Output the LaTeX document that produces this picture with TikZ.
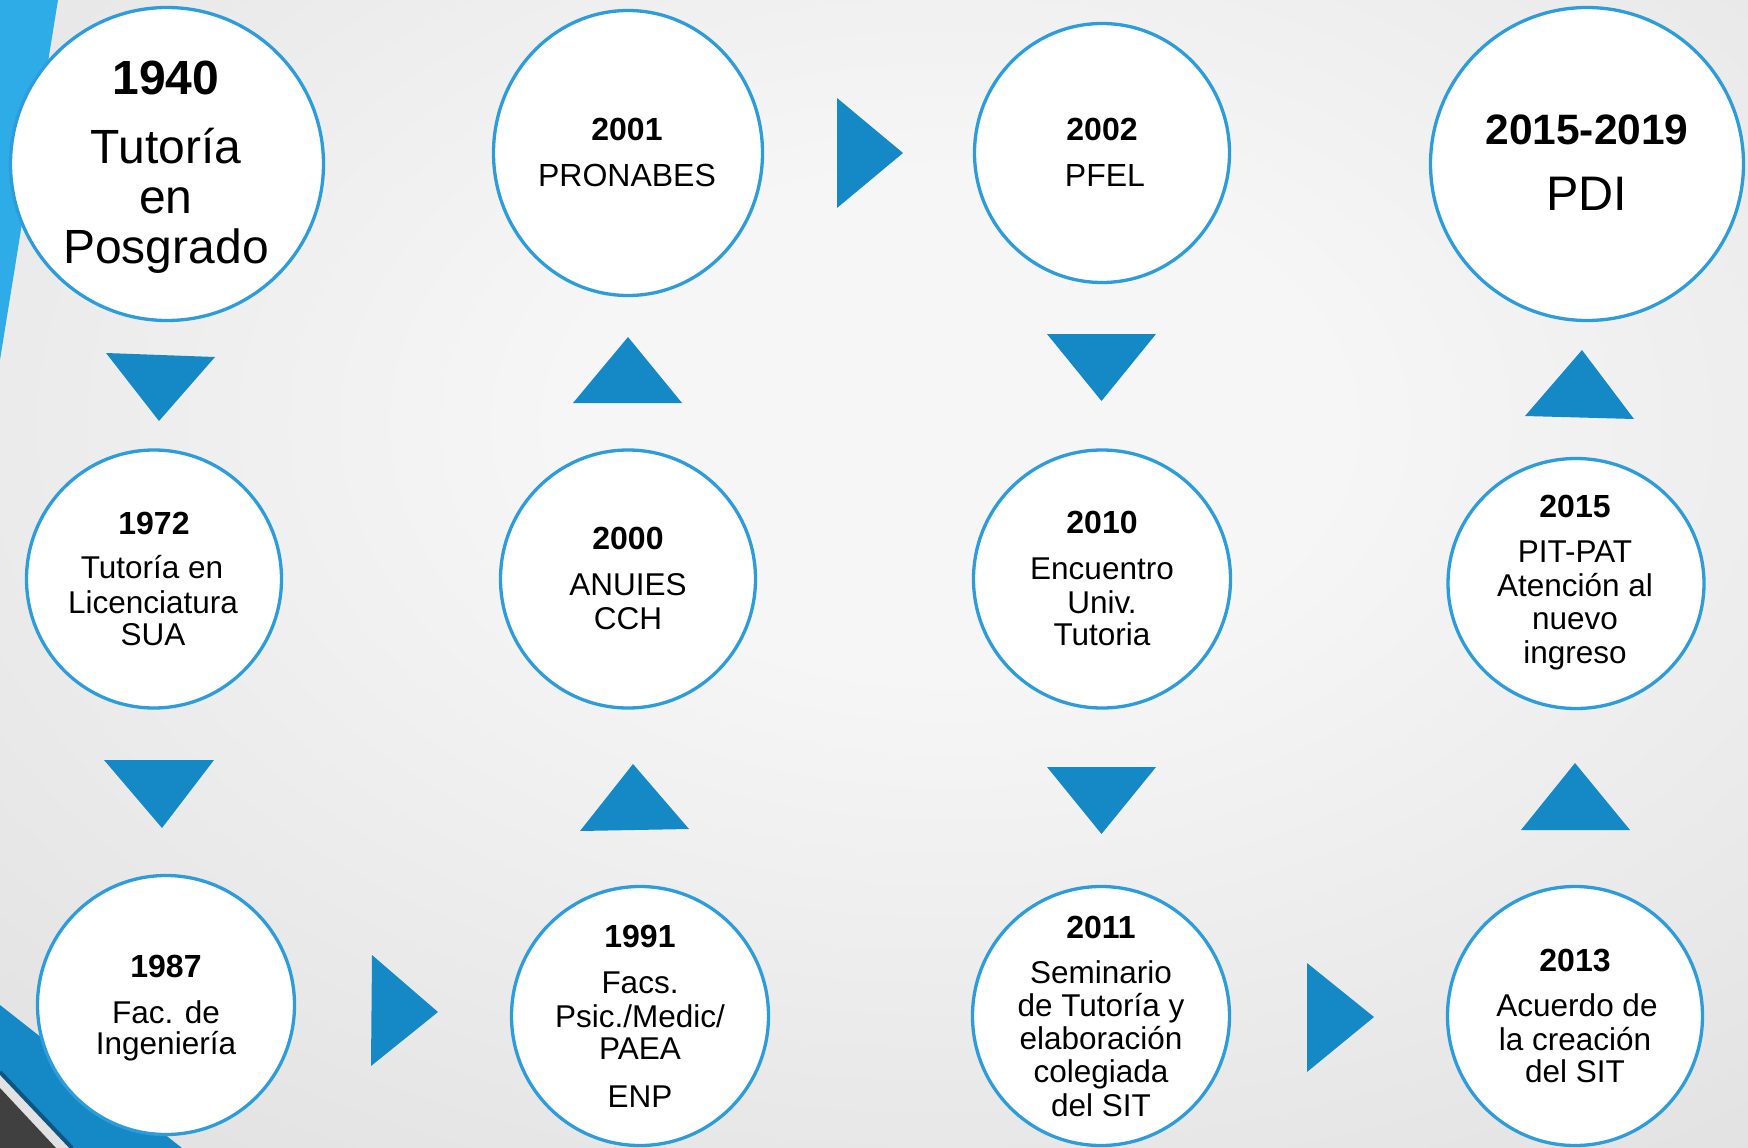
\documentclass[tikz,border=0pt]{standalone}
\usepackage{fontspec}
\setmainfont{Liberation Sans}
\usetikzlibrary{shapes.geometric}
\definecolor{ring}{RGB}{45,156,219}
\definecolor{tricol}{RGB}{21,137,198}
\definecolor{stripecol}{RGB}{46,172,232}
\definecolor{darklinecol}{RGB}{14,85,130}
\definecolor{darkgraycol}{RGB}{64,64,64}
\definecolor{bgin}{RGB}{246,246,246}
\definecolor{bgout}{RGB}{206,206,206}
\pgfdeclareradialshading{bgshade}{\pgfpoint{0bp}{0bp}}{color(0bp)=(bgin); color(8bp)=(bgin); color(50bp)=(bgout)}
\begin{document}
\begin{tikzpicture}[x=1pt,y=-1pt,
  ev/.style={ellipse, draw=ring, line width=3.3pt, fill=white, inner sep=0pt},
  yr/.style={anchor=base, inner sep=0pt, font=\bfseries\fontsize{#1}{#1}\selectfont},
  tx/.style={anchor=base, inner sep=0pt, font=\fontsize{#1}{#1}\selectfont},
  arrowtri/.style={fill=tricol}]
\useasboundingbox (0,0) rectangle (1748,1148);
% background
\begin{scope}
\clip (0,0) rectangle (1748,1148);
\shade[shading=bgshade] (-250,-350) rectangle (2150,1200);
\fill[stripecol] (0,0) -- (58,0) -- (0,360) -- cycle;
\fill[tricol] (0,1005) -- (182,1148) -- (72,1148) -- (0,1072) -- cycle;
\draw[darklinecol, line width=4pt] (0,1072) -- (72,1148);
\fill[darkgraycol] (0,1088) -- (56,1148) -- (0,1148) -- cycle;
\end{scope}
% triangles
\fill[arrowtri] (106,353) -- (215,357) -- (159,421) -- cycle;
\fill[arrowtri] (104,760) -- (214,760) -- (162,828) -- cycle;
\fill[arrowtri] (573,403) -- (682,403) -- (628,337) -- cycle;
\fill[arrowtri] (580,831) -- (689,829) -- (633,764) -- cycle;
\fill[arrowtri] (837,98) -- (903,153) -- (837,208) -- cycle;
\fill[arrowtri] (1047,334) -- (1156,334) -- (1101.5,401) -- cycle;
\fill[arrowtri] (1047,767) -- (1156,767) -- (1101.5,834) -- cycle;
\fill[arrowtri] (1525,416) -- (1634,419) -- (1582,350) -- cycle;
\fill[arrowtri] (1521,830) -- (1630,830) -- (1575,763) -- cycle;
\fill[arrowtri] (372,955) -- (438,1012) -- (371,1066) -- cycle;
\fill[arrowtri] (1307,963) -- (1374,1017) -- (1307,1072) -- cycle;
% circles
\node[ev, minimum width=313pt, minimum height=313pt] (c1940) at (167,164) {};
\node[ev, minimum width=269pt, minimum height=285pt] (c2001) at (628,153) {};
\node[ev, minimum width=255pt, minimum height=259pt] (c2002) at (1102,153) {};
\node[ev, minimum width=313pt, minimum height=313pt] (c2019) at (1587,164) {};
\node[ev, minimum width=255pt, minimum height=258pt] (c1972) at (154,579) {};
\node[ev, minimum width=255pt, minimum height=258pt] (c2000) at (628,579) {};
\node[ev, minimum width=257pt, minimum height=258pt] (c2010) at (1102,579) {};
\node[ev, minimum width=256pt, minimum height=250pt] (c2015) at (1576,583.5) {};
\node[ev, minimum width=257pt, minimum height=259pt] (c1987) at (166,1005) {};
\node[ev, minimum width=257pt, minimum height=259pt] (c1991) at (640,1016) {};
\node[ev, minimum width=257pt, minimum height=259pt] (c2011) at (1101,1016) {};
\node[ev, minimum width=255pt, minimum height=259pt] (c2013) at (1575,1016) {};
% texts
\node[yr=48] (y1940) at (166,95) {1940};
\node[tx=48] (a1940) at (166,163) {Tutoría};
\node[tx=48] (b1940) at (166,213) {en};
\node[tx=48] (d1940) at (166,263) {Posgrado};
\node[yr=32] (y2001) at (627,140) {2001};
\node[tx=32] (a2001) at (627,186) {PRONABES};
\node[yr=32] (y2002) at (1102,140) {2002};
\node[tx=32] (a2002) at (1105,186) {PFEL};
\node[yr=42.5] (y2019) at (1587,144) {2015-2019};
\node[tx=48.5] (a2019) at (1587,210) {PDI};
\node[yr=32] (y1972) at (154,534) {1972};
\node[tx=31.5] (a1972) at (152,578) {Tutoría en};
\node[tx=31.5] (b1972) at (153,613) {Licenciatura};
\node[tx=31.5] (d1972) at (153,645) {SUA};
\node[yr=32] (y2000) at (628,549) {2000};
\node[tx=31.5] (a2000) at (628,595) {ANUIES};
\node[tx=31.5] (b2000) at (628,629) {CCH};
\node[yr=32] (y2010) at (1102,533) {2010};
\node[tx=31.5] (a2010) at (1102,579) {Encuentro};
\node[tx=31.5] (b2010) at (1102,613) {Univ.};
\node[tx=31.5] (d2010) at (1102,645) {Tutoria};
\node[yr=32] (y2015) at (1575,517) {2015};
\node[tx=31.5] (a2015) at (1575,562) {PIT-PAT};
\node[tx=31.5] (b2015) at (1575,596) {Atención al};
\node[tx=31.5] (d2015) at (1575,629.5) {nuevo};
\node[tx=31.5] (e2015) at (1575,663) {ingreso};
\node[yr=32] (y1987) at (166,977) {1987};
\node[tx=31.5] (a1987) at (166,1023) {Fac. de};
\node[tx=31.5] (b1987) at (166,1054) {Ingeniería};
\node[yr=32] (y1991) at (640,947) {1991};
\node[tx=31.5] (a1991) at (640,993) {Facs.};
\node[tx=31.5] (b1991) at (640,1027) {Psic./Medic/};
\node[tx=31.5] (d1991) at (640,1059) {PAEA};
\node[tx=31.5] (e1991) at (640,1107) {ENP};
\node[yr=32] (y2011) at (1101,938) {2011};
\node[tx=31.5] (a2011) at (1101,983) {Seminario};
\node[tx=31.5] (b2011) at (1101,1016) {de Tutoría y};
\node[tx=31.5] (d2011) at (1101,1049) {elaboración};
\node[tx=31.5] (e2011) at (1101,1082) {colegiada};
\node[tx=31.5] (f2011) at (1101,1116) {del SIT};
\node[yr=32] (y2013) at (1575,971) {2013};
\node[tx=31.5] (a2013) at (1577,1016) {Acuerdo de};
\node[tx=31.5] (b2013) at (1575,1050) {la creación};
\node[tx=31.5] (d2013) at (1575,1082) {del SIT};
\end{tikzpicture}
\end{document}
